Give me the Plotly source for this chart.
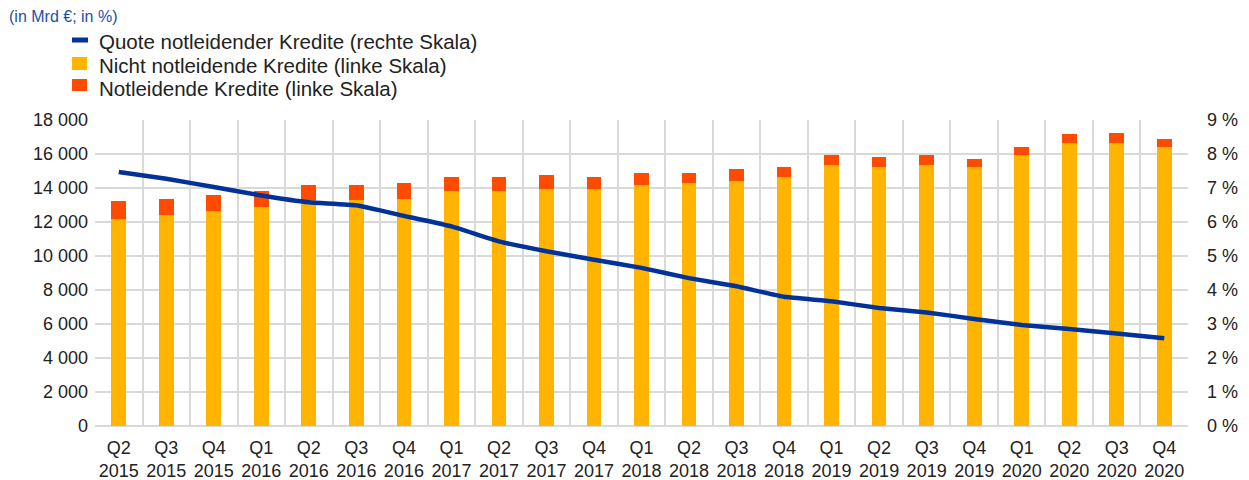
import plotly.graph_objects as go

# Quarters (x-axis categories)
quarters = ["Q2<br>2015", "Q3<br>2015", "Q4<br>2015", "Q1<br>2016", "Q2<br>2016", "Q3<br>2016",
            "Q4<br>2016", "Q1<br>2017", "Q2<br>2017", "Q3<br>2017", "Q4<br>2017", "Q1<br>2018",
            "Q2<br>2018", "Q3<br>2018", "Q4<br>2018", "Q1<br>2019", "Q2<br>2019", "Q3<br>2019",
            "Q4<br>2019", "Q1<br>2020", "Q2<br>2020", "Q3<br>2020", "Q4<br>2020"]

# Performing loans (bn €, left scale)
performing = [12190, 12420, 12660, 12890, 13270, 13270, 13360, 13830, 13830, 13950, 13950, 14180,
              14300, 14420, 14650, 15380, 15240, 15380, 15240, 15960, 16670, 16670, 16430]

# Non-performing loans (bn €, left scale)
non_performing = [1070, 940, 940, 940, 900, 900, 940, 820, 820, 840, 700, 720,
                  610, 700, 610, 590, 590, 590, 470, 470, 490, 590, 470]

# NPL ratio (%, right scale)
npl_ratio = [7.47, 7.27, 7.03, 6.78, 6.58, 6.49, 6.18, 5.87, 5.43, 5.14, 4.89, 4.65,
             4.35, 4.11, 3.80, 3.67, 3.47, 3.34, 3.15, 2.97, 2.85, 2.72, 2.58]

left_ticks = list(range(0, 18001, 2000))
right_ticks = list(range(0, 10))
right_tick_text = [f"{v} %" for v in right_ticks]

series_names = ["Quote notleidender Kredite (rechte Skala)",
                "Nicht notleidende Kredite (linke Skala)",
                "Notleidende Kredite (linke Skala)"]

BLUE = "#003299"
YELLOW = "#FFB400"
RED = "#FF4B00"
GRID = "#D9D9D9"
TEXT = "#222222"
FONT = "Liberation Sans, Arial, sans-serif"

W, H = 1249, 480
ML, MR, MT, MB = 95, 61, 120, 54
PW, PH = W - ML - MR, H - MT - MB


def px(x):
    return (x - ML) / PW


def py(y):
    return (H - MB - y) / PH


fig = go.Figure()

fig.add_trace(go.Bar(
    x=quarters, y=performing, marker=dict(color=YELLOW, line=dict(width=0)),
    name=series_names[1],
))
fig.add_trace(go.Bar(
    x=quarters, y=non_performing, marker=dict(color=RED, line=dict(width=0)),
    name=series_names[2],
))
fig.add_trace(go.Scatter(
    x=quarters, y=npl_ratio, yaxis="y2", mode="lines",
    line=dict(color=BLUE, width=4.5, shape="spline", smoothing=0.3),
    name=series_names[0],
))

# Legend keys drawn by hand: a short dash for the line, squares for the bars
shapes = [
    dict(type="line", xref="paper", yref="paper", x0=px(72), x1=px(88), y0=py(40), y1=py(40),
         line=dict(color=BLUE, width=5)),
    dict(type="rect", xref="paper", yref="paper", x0=px(72), x1=px(87), y0=py(57), y1=py(70),
         fillcolor=YELLOW, line=dict(width=0)),
    dict(type="rect", xref="paper", yref="paper", x0=px(72), x1=px(87), y0=py(79), y1=py(91),
         fillcolor=RED, line=dict(width=0)),
]

annotations = [dict(
    text="(in Mrd €; in %)", xref="paper", yref="paper", x=px(7), y=py(16),
    xanchor="left", yanchor="middle", showarrow=False,
    font=dict(family=FONT, size=16, color="#1F4EA8"),
)]
for name, yc in zip(series_names, [41.5, 65, 88.5]):
    annotations.append(dict(
        text=name, xref="paper", yref="paper", x=px(97), y=py(yc),
        xanchor="left", yanchor="middle", showarrow=False,
        font=dict(family=FONT, size=20.5, color=TEXT),
    ))

fig.update_layout(
    width=W, height=H,
    margin=dict(l=ML, r=MR, t=MT, b=MB, autoexpand=False),
    paper_bgcolor="white", plot_bgcolor="white",
    barmode="stack", bargap=0.69,
    separators=". ",
    font=dict(family=FONT, size=18, color=TEXT),
    showlegend=False,
    xaxis=dict(
        type="category", tickson="boundaries", showgrid=True, gridcolor=GRID, gridwidth=2,
        ticks="", showline=False, tickfont=dict(size=18, color=TEXT),
        tickangle=0, automargin=False, ticklabelstandoff=9,
        range=[-0.5, len(quarters) - 0.5],
    ),
    yaxis=dict(
        range=[0, 18000], tickvals=left_ticks, tickformat=",d",
        showgrid=True, gridcolor=GRID, gridwidth=2, zeroline=True, zerolinecolor=GRID,
        zerolinewidth=2, ticks="", tickfont=dict(size=18, color=TEXT),
        automargin=False, ticklabelstandoff=6,
    ),
    yaxis2=dict(
        range=[0, 9], tickvals=right_ticks, ticktext=right_tick_text,
        overlaying="y", side="right",
        showgrid=False, zeroline=False, ticks="", tickfont=dict(size=18, color=TEXT),
        automargin=False, ticklabelstandoff=18,
    ),
    shapes=shapes,
    annotations=annotations,
)

fig.write_html("out.html")
